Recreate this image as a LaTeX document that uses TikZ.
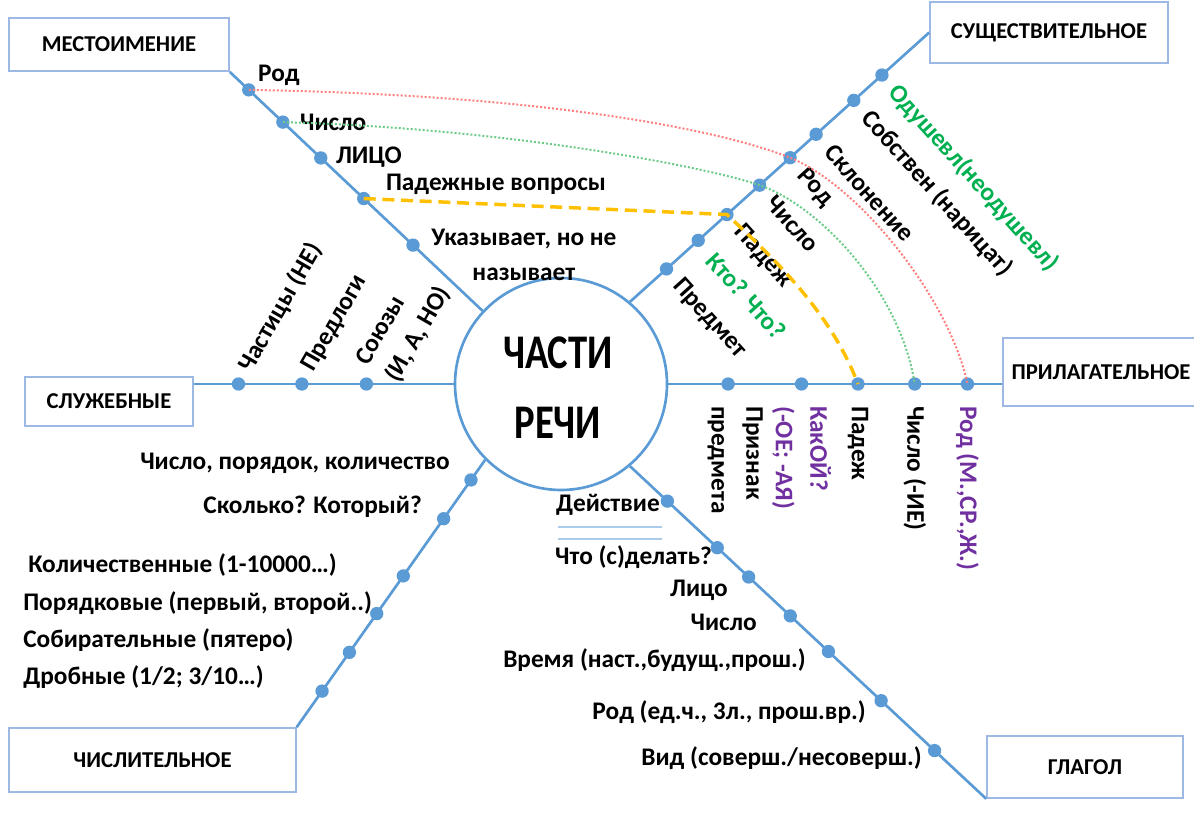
\documentclass[tikz,border=0pt]{standalone}
\usepackage{fontspec}
\setmainfont{Carlito}
\usepackage{graphicx}
\usetikzlibrary{calc,positioning}

\definecolor{lineblue}{HTML}{5B9BD5}
\definecolor{boxblue}{HTML}{9DB9E3}
\definecolor{sepblue}{HTML}{A9CCEB}
\definecolor{txtgreen}{HTML}{00B050}
\definecolor{txtpurple}{HTML}{7030A0}
\definecolor{linkred}{HTML}{FF7F7F}
\definecolor{linkgreen}{HTML}{6CCB86}
\definecolor{linkyellow}{HTML}{FFC000}

\begin{document}
\begin{tikzpicture}[x=0.75pt,y=-0.75pt,
    branch/.style={draw=lineblue,line width=2pt},
    dot/.style={circle,fill=lineblue,inner sep=0pt,minimum size=10pt},
    box/.style={draw=boxblue,line width=1.2pt,inner sep=0pt,
        font=\bfseries\fontsize{17}{20}\selectfont},
    lbl/.style={font=\bfseries\fontsize{19}{26}\selectfont,inner sep=0pt},
    part/.style={circle,draw=lineblue,line width=2pt,minimum size=159pt,inner sep=0pt},
    redlink/.style={draw=linkred,line width=1.5pt,dash pattern=on 1.5pt off 1.5pt},
    greenlink/.style={draw=linkgreen,line width=1.5pt,dash pattern=on 1.5pt off 1.5pt},
    yellowlink/.style={draw=linkyellow,line width=2.6pt,dash pattern=on 9pt off 5pt}]
\useasboundingbox (0,0) rectangle (1194,813);

% center and boxes
\node[part] (part) at (561,384) {};
\node[font=\bfseries\fontsize{29}{42}\selectfont,inner sep=0pt] (ttl) at (558,389)
    {\scalebox{1}[1.25]{\begin{tabular}{@{}c@{}}ЧАСТИ\\РЕЧИ\end{tabular}}};
\node[box,minimum width=165pt,minimum height=40pt] (mest) at (119,44.5) {МЕСТОИМЕНИЕ};
\node[box,minimum width=178.5pt,minimum height=45.75pt] (sush) at (1049,32.5) {СУЩЕСТВИТЕЛЬНОЕ};
\node[box,minimum width=147pt,minimum height=51pt] (pril) at (1101,372) {ПРИЛАГАТЕЛЬНОЕ};
\node[box,minimum width=126pt,minimum height=36.75pt] (sluzh) at (109,401.5) {СЛУЖЕБНЫЕ};
\node[box,minimum width=215pt,minimum height=48pt] (chisl) at (152.5,760) {ЧИСЛИТЕЛЬНОЕ};
\node[box,minimum width=147pt,minimum height=46.5pt] (glag) at (1085,767) {ГЛАГОЛ};

% branches with points
\draw[branch] (mest.south east) -- (part.137)
    node[dot,pos=.075] (m1) {} node[dot,pos=.21] (m2) {} node[dot,pos=.36] (m3) {}
    node[dot,pos=.53] (m4) {} node[dot,pos=.725] (m5) {};
\draw[branch] (part.50) -- (sush.west)
    \foreach \t [count=\i] in {.122,.228,.324,.433,.535,.622,.748,.842}
    {node[dot,pos=\t] (s\i) {}};
\draw[branch] (part.east) -- (part.east -| pril.west)
    \foreach \t [count=\i] in {.179,.399,.568,.738,.896}
    {node[dot,pos=\t] (p\i) {}};
\draw[branch] (part.west -| sluzh.east) -- (part.west)
    node[dot,pos=.172] (z1) {} node[dot,pos=.416] (z2) {} node[dot,pos=.664] (z3) {};
\draw[branch] (chisl.north east) -- (part.225)
    \foreach \t [count=\i] in {.135,.28,.425,.566,.78,.925}
    {node[dot,pos=\t] (c\i) {}};
\draw[branch] (part.-50) -- (glag.south west)
    \foreach \t [count=\i] in {.105,.245,.333,.45,.557,.705,.855}
    {node[dot,pos=\t] (g\i) {}};

% местоимение
\node[lbl,anchor=west] (ml1) at ([shift={(9,-15)}]m1) {Род};
\node[lbl,anchor=west] (ml2) at ([shift={(17,0)}]m2) {Число};
\node[lbl,anchor=west] (ml3) at ([shift={(15,-1)}]m3) {ЛИЦО};
\node[lbl,anchor=west] (ml4) at ([shift={(22,-14)}]m4) {Падежные вопросы};
\node[lbl,anchor=west,align=center] (ml5) at ([shift={(18,10)}]m5) {Указывает, но не\\называет};

% существительное
\node[lbl,rotate=-48,anchor=west] (sl1) at ([shift={(10,13)}]s1) {Предмет};
\node[lbl,rotate=-48,anchor=west,text=txtgreen] (sl2) at ([shift={(13,16)}]s2) {Кто? Что?};
\node[lbl,rotate=-48,anchor=west] (sl3) at ([shift={(11,14)}]s3) {Падеж};
\node[lbl,rotate=-48,anchor=west] (sl4) at ([shift={(11,14)}]s4) {Число};
\node[lbl,rotate=-48,anchor=west] (sl5) at ([shift={(11,14)}]s5) {Род};
\node[lbl,rotate=-48,anchor=west] (sl6) at ([shift={(13,14)}]s6) {Склонение};
\node[lbl,rotate=-48,anchor=west] (sl7) at ([shift={(12,14)}]s7) {Собствен (нарицат)};
\node[lbl,rotate=-48,anchor=west,text=txtgreen] (sl8) at ([shift={(11,13)}]s8) {Одушевл(неодушевл)};

% прилагательное
\node[lbl,rotate=-90,anchor=west,align=left] (pl1) at ([shift={(7,22)}]p1) {Признак\\предмета};
\node[lbl,rotate=-90,anchor=west,align=left,text=txtpurple] (pl2) at ([shift={(0,22)}]p2) {КакОЙ?\\(-ОЕ; -АЯ)};
\node[lbl,rotate=-90,anchor=west] (pl3) at ([shift={(0,22)}]p3) {Падеж};
\node[lbl,rotate=-90,anchor=west] (pl4) at ([shift={(0,22)}]p4) {Число (-ИЕ)};
\node[lbl,rotate=-90,anchor=west,text=txtpurple] (pl5) at ([shift={(0,22)}]p5) {Род (М.,СР.,Ж.)};

% служебные
\node[lbl,rotate=60,anchor=west] (zl1) at ([shift={(6,-14)}]z1) {Частицы (НЕ)};
\node[lbl,rotate=60,anchor=west] (zl2) at ([shift={(6,-14)}]z2) {Предлоги};
\node[lbl,rotate=60,anchor=west,align=left] (zl3) at ([shift={(11,-12)}]z3) {Союзы\\(И, А, НО)};

% числительное
\node[lbl,anchor=east] (cl1) at (450,463) {Число, порядок, количество};
\node[lbl,anchor=east] (cl2) at (422,507) {Сколько? Который?};
\node[lbl,anchor=west] (cl3) at (28,565) {Количественные (1-10000…)};
\node[lbl,anchor=west] (cl4) at (23,603) {Порядковые (первый, второй..)};
\node[lbl,anchor=west] (cl5) at (23,640) {Собирательные (пятеро)};
\node[lbl,anchor=west] (cl6) at (23,677) {Дробные (1/2; 3/10…)};

% глагол
\node[lbl,anchor=east] (gl1) at (660,505) {Действие};
\draw[sepblue,line width=1.5pt] (558,527) -- (662,527);
\draw[sepblue,line width=1.5pt] (558,539) -- (662,539);
\node[lbl,anchor=east] (gl2) at (712,557) {Что (с)делать?};
\node[lbl,anchor=east] (gl3) at (728,590) {Лицо};
\node[lbl,anchor=east] (gl4) at (757,622) {Число};
\node[lbl,anchor=east] (gl5) at (806,660) {Время (наст.,будущ.,прош.)};
\node[lbl,anchor=east] (gl6) at (866,712) {Род (ед.ч., 3л., прош.вр.)};
\node[lbl,anchor=east] (gl7) at (922,758) {Вид (соверш./несоверш.)};

% links
\draw[redlink] (m1.center) .. controls (550,95) and (720,130) .. (s5.center)
    .. controls (860,186) and (950,300) .. (p5.center);
\draw[greenlink] (m2.center) .. controls (500,128) and (700,165) .. (s4.center)
    .. controls (818,205) and (900,290) .. (p4.center);
\draw[yellowlink] (m4.center) -- (s3.center)
    .. controls (770,255) and (830,310) .. (p3.center);
\end{tikzpicture}
\end{document}
